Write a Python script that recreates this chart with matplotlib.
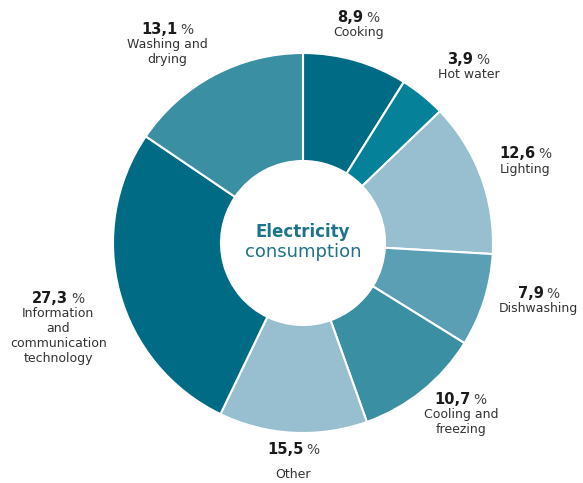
import numpy as np
import matplotlib
matplotlib.use("Agg")
import matplotlib.pyplot as plt
from matplotlib.offsetbox import TextArea, HPacker, VPacker, AnnotationBbox

# data (clockwise from 12 o'clock)
categories = ["Cooking", "Hot water", "Lighting", "Dishwashing",
              "Cooling and\nfreezing", "Other",
              "Information\nand\ncommunication\ntechnology",
              "Washing and\ndrying"]
share_labels = ["8,9", "3,9", "12,6", "7,9", "10,7", "15,5", "27,3", "13,1"]
# slice sizes as drawn in the source graphic (its wedges don't follow the printed labels exactly)
slice_sizes = [8.9, 3.9, 13.1, 7.9, 10.7, 12.6, 27.3, 15.5]
colors = ["#006b84", "#05819a", "#97bfcf", "#5a9fb3",
          "#3b8fa3", "#97bfcf", "#006b84", "#3b8fa3"]

# nudges of each label block away from the plain mid-angle spot (pixels, x right / y down)
label_nudge = [(-11, 12), (14, 10), (-3, 1), (7, -15),
               (7, -16), (3, -21), (-13, 23), (-23, 13)]

W, H = 583, 483
cx, cy = 303, H - 243
R, r_in = 190, 82

fig = plt.figure(figsize=(W / 100, H / 100), dpi=100)
ax = fig.add_axes([0, 0, 1, 1])

wedges, _ = ax.pie(slice_sizes, colors=colors, startangle=90, counterclock=False,
                   center=(cx, cy), radius=R,
                   wedgeprops=dict(width=R - r_in, edgecolor="white", linewidth=1.5))
ax.set_xlim(0, W)
ax.set_ylim(0, H)
ax.set_aspect("equal")
ax.axis("off")

# centre title
ax.text(cx, cy + 11, "Electricity", ha="center", va="center", fontsize=12,
        fontweight="bold", color="#1d7389")
ax.text(cx, cy - 9, "consumption", ha="center", va="center", fontsize=13,
        color="#1d7389")

# slice labels
label_r = 240
for w, name, pct, (nx, ny) in zip(wedges, categories, share_labels, label_nudge):
    ang = np.deg2rad((w.theta1 + w.theta2) / 2)
    x = cx + label_r * np.cos(ang) + nx
    y = cy + label_r * np.sin(ang) - ny
    top = HPacker(children=[
        TextArea(pct, textprops=dict(fontsize=10.5, fontweight="bold", color="#1a1a1a")),
        TextArea("%", textprops=dict(fontsize=10, color="#444444"))],
        align="baseline", pad=0, sep=2)
    bottom = TextArea(name, textprops=dict(fontsize=9, color="#333333",
                                           ha="center", multialignment="center",
                                           linespacing=1.2))
    gap = 8 if name == "Other" else 1
    box = VPacker(children=[top, bottom], align="center", pad=0, sep=gap)
    ab = AnnotationBbox(box, (x, y), frameon=False, box_alignment=(0.5, 0.5))
    ax.add_artist(ab)

fig.savefig("out.png", dpi=100)
